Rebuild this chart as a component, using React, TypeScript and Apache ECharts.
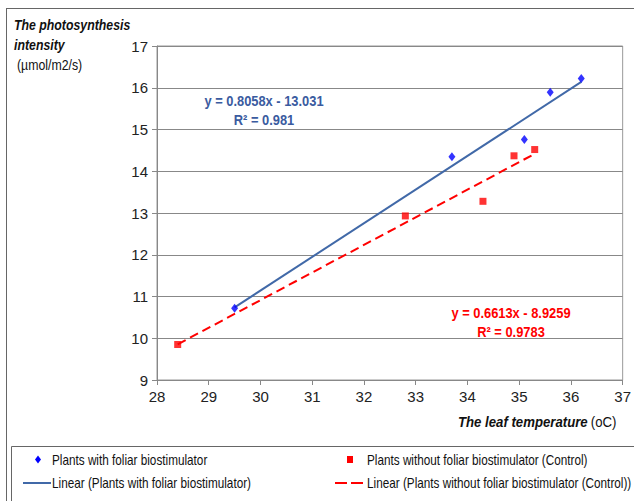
import React, { useEffect, useRef } from "react";
import * as echarts from "echarts";

const FONT = "'Liberation Sans', Arial, sans-serif";

const withX = [29.5, 33.7, 35.1, 35.6, 36.2];
const withY = [10.72, 14.35, 14.76, 15.89, 16.22];
const controlX = [28.4, 32.8, 34.3, 34.9, 35.3];
const controlY = [9.85, 12.93, 13.28, 14.37, 14.52];

// Trendline coefficients as printed on the chart: [slope, intercept]
const withFit = [0.8058, -13.031];
const controlFit = [0.6613, -8.9259];

const xTicks = [28, 37];
const yTicks = [9, 17];

const labels = {
  with: "Plants with foliar biostimulator",
  control: "Plants without foliar biostimulator (Control)",
  withLin: "Linear (Plants with foliar biostimulator)",
  controlLin: "Linear (Plants without foliar biostimulator (Control))",
};

const BLUE = "#0000FF";
const LINEBLUE = "#4169A8";
const RED = "#FF0000";
const NARROW = 0.88;

function fitLine(xs: number[], fit: number[]) {
  const lo = Math.min(...xs);
  const hi = Math.max(...xs);
  return [
    [lo, fit[0] * lo + fit[1]],
    [hi, fit[0] * hi + fit[1]],
  ];
}

export default function App() {
  const ref = useRef<HTMLDivElement>(null);
  useEffect(() => {
    if (!ref.current) return;
    const chart = echarts.init(ref.current, null, { renderer: "svg" });
    const legendText = (text: string, x: number, y: number) => ({
      type: "text",
      x,
      y,
      scaleX: 0.84,
      style: { text, font: `14px ${FONT}`, fill: "#111", verticalAlign: "middle" },
    });
    chart.setOption({
      animation: false,
      backgroundColor: "#ffffff",
      textStyle: { fontFamily: FONT },
      grid: {
        left: 157,
        top: 46,
        right: 9,
        bottom: 121,
        show: true,
        borderColor: "#999",
        borderWidth: 1,
      },
      xAxis: {
        type: "value",
        min: xTicks[0],
        max: xTicks[1],
        interval: 1,
        axisLine: { lineStyle: { color: "#888", width: 1 } },
        axisTick: { show: true, length: 5, lineStyle: { color: "#888" } },
        axisLabel: { color: "#222", fontSize: 15, fontFamily: FONT, margin: 9 },
        splitLine: { show: false },
      },
      yAxis: {
        type: "value",
        min: yTicks[0],
        max: yTicks[1],
        interval: 1,
        axisLine: { show: true, lineStyle: { color: "#888", width: 1 } },
        axisTick: { show: true, length: 5, lineStyle: { color: "#888" } },
        axisLabel: { color: "#222", fontSize: 15, fontFamily: FONT, margin: 9 },
        splitLine: { show: true, lineStyle: { color: "#888", width: 1 } },
      },
      series: [
        {
          name: labels.withLin,
          type: "line",
          data: fitLine(withX, withFit),
          symbol: "none",
          lineStyle: { color: LINEBLUE, width: 2 },
          z: 2,
        },
        {
          name: labels.controlLin,
          type: "line",
          data: fitLine(controlX, controlFit),
          symbol: "none",
          lineStyle: { color: RED, width: 2, type: [9, 5] },
          z: 2,
        },
        {
          name: labels.with,
          type: "scatter",
          data: withX.map((x, i) => [x, withY[i]]),
          symbol: "diamond",
          symbolSize: [7, 9],
          itemStyle: { color: BLUE },
          z: 3,
        },
        {
          name: labels.control,
          type: "scatter",
          data: controlX.map((x, i) => [x, controlY[i]]),
          symbol: "rect",
          symbolSize: 7,
          itemStyle: { color: RED },
          z: 3,
        },
      ],
      graphic: [
        // outer chart border (top and left)
        { type: "line", shape: { x1: 6, y1: 8.5, x2: 634, y2: 8.5 }, style: { stroke: "#666", lineWidth: 1 } },
        { type: "line", shape: { x1: 6.5, y1: 8, x2: 6.5, y2: 501 }, style: { stroke: "#666", lineWidth: 1 } },
        // legend box
        { type: "rect", shape: { x: 11.5, y: 446.5, width: 640, height: 80 }, style: { fill: "#fff", stroke: "#666", lineWidth: 1 } },
        // y-axis name
        {
          type: "text",
          x: 14,
          y: 25,
          scaleX: NARROW,
          style: { text: "The photosynthesis", font: `italic bold 14px ${FONT}`, fill: "#111", verticalAlign: "middle" },
        },
        {
          type: "text",
          x: 14,
          y: 45,
          scaleX: NARROW,
          style: { text: "intensity", font: `italic bold 14px ${FONT}`, fill: "#111", verticalAlign: "middle" },
        },
        {
          type: "text",
          x: 17,
          y: 65,
          scaleX: NARROW,
          style: { text: "(µmol/m2/s)", font: `14px ${FONT}`, fill: "#111", verticalAlign: "middle" },
        },
        // x-axis name
        {
          type: "text",
          x: 458,
          y: 422,
          scaleX: NARROW,
          style: {
            text: "{b|The leaf temperature} {n|(oC)}",
            verticalAlign: "middle",
            rich: {
              b: { font: `italic bold 15px ${FONT}`, fill: "#111" },
              n: { font: `15px ${FONT}`, fill: "#111" },
            },
          },
        },
        // equations
        {
          type: "text",
          x: 264,
          y: 101,
          scaleX: 0.92,
          style: {
            text: "y = 0.8058x - 13.031",
            font: `bold 14px ${FONT}`,
            fill: "#3A5BA0",
            align: "center",
            verticalAlign: "middle",
          },
        },
        {
          type: "text",
          x: 264,
          y: 120,
          scaleX: 0.92,
          style: {
            text: "R² = 0.981",
            font: `bold 14px ${FONT}`,
            fill: "#3A5BA0",
            align: "center",
            verticalAlign: "middle",
          },
        },
        {
          type: "text",
          x: 511,
          y: 313,
          scaleX: 0.92,
          style: {
            text: "y = 0.6613x - 8.9259",
            font: `bold 14px ${FONT}`,
            fill: RED,
            align: "center",
            verticalAlign: "middle",
          },
        },
        {
          type: "text",
          x: 511,
          y: 332,
          scaleX: 0.92,
          style: {
            text: "R² = 0.9783",
            font: `bold 14px ${FONT}`,
            fill: RED,
            align: "center",
            verticalAlign: "middle",
          },
        },
        // legend entries
        { type: "polygon", shape: { points: [[38, 455.5], [41, 459.5], [38, 463.5], [35, 459.5]] }, style: { fill: BLUE } },
        legendText(labels.with, 52, 460),
        { type: "rect", shape: { x: 347, y: 456, width: 6, height: 7 }, style: { fill: RED } },
        legendText(labels.control, 367, 460),
        { type: "line", shape: { x1: 23, y1: 483, x2: 51, y2: 483 }, style: { stroke: LINEBLUE, lineWidth: 2 } },
        legendText(labels.withLin, 52, 483),
        { type: "line", shape: { x1: 335, y1: 483, x2: 366, y2: 483 }, style: { stroke: RED, lineWidth: 2, lineDash: [12, 4] } },
        legendText(labels.controlLin, 367, 483),
      ],
    });
    return () => chart.dispose();
  }, []);
  return <div ref={ref} style={{ width: 634, height: 501, position: "absolute", left: 0, top: 0 }} />;
}
